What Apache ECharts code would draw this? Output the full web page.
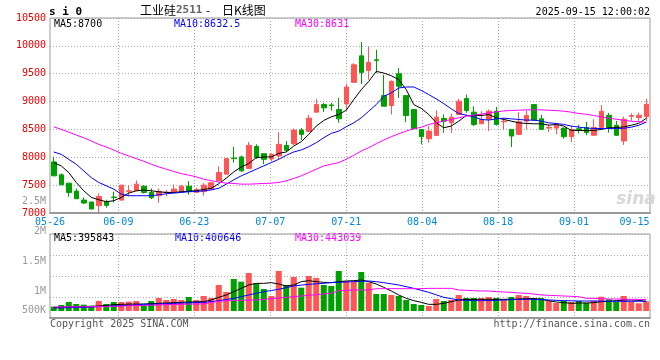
<!DOCTYPE html>
<html><head><meta charset="utf-8">
<script src="https://cdn.jsdelivr.net/npm/echarts@6/dist/echarts.min.js"></script>
<style>html,body{margin:0;padding:0;background:#fff}#c{width:660px;height:360px}</style>
</head><body><div id="c"></div>
<script>
const dates = ['05-26','05-27','05-28','05-29','05-30','06-03','06-04','06-05','06-06','06-09','06-10','06-11','06-12','06-13','06-16','06-17','06-18','06-19','06-20','06-23','06-24','06-25','06-26','06-27','06-30','07-01','07-02','07-03','07-04','07-07','07-08','07-09','07-10','07-11','07-14','07-15','07-16','07-17','07-18','07-21','07-22','07-23','07-24','07-25','07-28','07-29','07-30','07-31','08-01','08-04','08-05','08-06','08-07','08-08','08-11','08-12','08-13','08-14','08-15','08-18','08-19','08-20','08-21','08-22','08-25','08-26','08-27','08-28','08-29','09-01','09-02','09-03','09-04','09-05','09-08','09-09','09-10','09-11','09-12','09-15'];
const xTickLabels = ['05-26','06-09','06-23','07-07','07-21','08-04','08-18','09-01','09-15'];

const opens  = [7917,7685,7536,7393,7232,7197,7131,7202,7286,7232,7390,7399,7482,7369,7310,7365,7369,7381,7482,7369,7387,7429,7577,7697,7988,8006,7798,8196,8065,7970,8024,8214,8244,8488,8464,8810,8946,8940,8857,8958,9345,9821,9560,9750,9107,8929,9500,9107,8857,8500,8333,8393,8696,8619,8768,9054,8810,8601,8679,8827,8637,8500,8411,8649,8946,8690,8524,8524,8524,8369,8512,8533,8395,8533,8754,8575,8293,8735,8713,8730];
const closes = [7667,7506,7369,7256,7179,7072,7298,7137,7280,7500,7398,7518,7369,7274,7387,7375,7429,7482,7387,7423,7500,7542,7726,7976,7976,7756,8214,8000,7964,8054,8232,8125,8488,8411,8702,8946,8887,8929,8690,9262,9661,9524,9702,9738,8917,9363,9274,8750,8512,8369,8470,8720,8649,8720,9006,8839,8589,8679,8827,8589,8649,8381,8637,8750,8667,8500,8536,8577,8369,8500,8500,8443,8533,8826,8533,8395,8683,8748,8754,8952];
const lows   = [7667,7506,7292,7256,7161,7060,7000,7095,7190,7220,7298,7399,7350,7250,7185,7298,7369,7370,7327,7369,7310,7429,7577,7697,7905,7740,7798,7970,7875,7930,7960,8100,8220,8310,8464,8810,8810,8840,8620,8839,9345,9316,9393,9512,8917,8768,9066,8630,8512,8232,8262,8380,8440,8440,8768,8800,8560,8601,8470,8570,8500,8185,8411,8500,8650,8500,8452,8411,8333,8274,8428,8395,8390,8500,8443,8381,8222,8653,8653,8653];
const highs  = [8006,7708,7536,7440,7280,7197,7351,7238,7381,7500,7488,7583,7500,7440,7440,7416,7512,7500,7571,7452,7536,7560,7839,7988,8190,8030,8274,8232,8070,8070,8452,8291,8518,8524,8762,9048,8976,8976,9066,9321,9690,10071,9988,9929,9482,9381,9601,9113,8857,8500,8560,8839,8768,8780,9048,9125,8917,8827,8857,8905,8708,8500,8810,8840,8950,8762,8589,8619,8530,8560,8583,8635,8683,8934,8798,8653,8730,8790,8802,9054];

const ma5  = [7905,7845,7726,7548,7399,7280,7238,7203,7220,7280,7357,7399,7411,7399,7381,7369,7369,7381,7393,7399,7423,7443,7525,7625,7738,7827,7887,7994,8006,8006,8071,8095,8202,8280,8411,8560,8661,8726,8768,8845,9036,9214,9363,9542,9512,9464,9393,9214,8946,8878,8768,8619,8530,8560,8649,8750,8750,8750,8768,8708,8679,8649,8619,8607,8601,8601,8577,8589,8560,8482,8482,8480,8482,8500,8530,8533,8545,8575,8610,8700];
const ma10 = [8095,8054,7964,7875,7756,7637,7548,7488,7429,7339,7310,7310,7310,7310,7327,7345,7357,7369,7381,7387,7396,7414,7444,7518,7595,7667,7726,7786,7845,7905,7964,8036,8095,8131,8190,8262,8351,8429,8470,8548,8619,8708,8827,8946,9095,9155,9244,9262,9262,9200,9125,9048,8964,8869,8786,8756,8726,8679,8667,8690,8702,8690,8679,8667,8667,8649,8619,8607,8589,8560,8542,8525,8518,8516,8516,8516,8520,8540,8575,8630];
const ma30 = [8548,8500,8452,8399,8351,8292,8232,8185,8131,8071,8024,7976,7929,7875,7827,7786,7744,7708,7679,7649,7607,7580,7554,7536,7530,7518,7518,7524,7530,7536,7548,7577,7619,7667,7726,7786,7845,7875,7905,7964,8036,8113,8173,8244,8310,8369,8423,8470,8512,8539,8589,8619,8649,8679,8708,8738,8756,8774,8798,8815,8833,8839,8845,8851,8851,8851,8845,8839,8827,8810,8786,8772,8750,8726,8702,8683,8665,8647,8638,8631];

const volume = [270000,310000,381000,333000,317000,290000,405000,333000,381000,381000,390000,405000,302000,405000,476000,429000,452000,429000,500000,429000,524000,476000,786000,619000,929000,865000,1071000,825000,690000,524000,1119000,786000,976000,722000,1000000,952000,786000,762000,1119000,881000,865000,1095000,841000,571000,571000,548000,524000,429000,333000,310000,286000,452000,405000,429000,548000,476000,476000,476000,500000,476000,452000,500000,548000,524000,476000,476000,405000,357000,405000,381000,405000,364000,412000,507000,445000,381000,524000,388000,350000,397000];
const volMa5  = [246000,255000,262000,266000,270000,278000,286000,300000,318000,325000,330000,333000,333000,340000,350000,358000,365000,372000,380000,385000,389000,429000,492000,548000,627000,706000,786000,825000,825000,841000,810000,762000,786000,865000,889000,865000,849000,841000,865000,881000,889000,905000,865000,810000,730000,643000,548000,468000,413000,373000,325000,325000,349000,389000,429000,444000,444000,444000,444000,444000,444000,444000,452000,460000,460000,444000,413000,381000,365000,349000,357000,357000,365000,389000,397000,413000,429000,429000,420000,396000];
const volMa10 = [238000,242000,246000,250000,254000,262000,270000,278000,286000,294000,302000,310000,325000,330000,335000,340000,349000,355000,361000,367000,373000,390000,413000,440000,468000,508000,548000,588000,627000,655000,683000,722000,762000,782000,802000,814000,825000,845000,849000,857000,865000,873000,881000,865000,841000,814000,786000,746000,706000,659000,611000,552000,492000,460000,429000,421000,413000,413000,413000,421000,429000,437000,444000,444000,444000,437000,429000,421000,413000,409000,405000,405000,405000,401000,397000,397000,397000,397000,399000,401000];
const volMa30 = [262000,264000,266000,267000,268000,270000,272000,274000,278000,282000,293000,296000,300000,304000,310000,317000,322000,326000,330000,333000,335000,370000,400000,413000,417000,421000,425000,429000,444000,460000,476000,492000,508000,524000,540000,556000,571000,587000,651000,659000,667000,667000,667000,698000,698000,698000,698000,698000,698000,698000,706000,706000,706000,706000,667000,659000,651000,643000,643000,627000,619000,611000,595000,587000,571000,548000,540000,532000,524000,516000,508000,468000,468000,460000,452000,452000,444000,444000,444000,443000];

const priceTicks = {min: 7000, max: 10500, step: 500};
const volTickValues = [500000,1000000,1500000,2000000,2500000];
const volTickLabels = ['500K','1M','1.5M','2M','2.5M'];
const priceMaLabels = ['MA5:8700','MA10:8632.5','MA30:8631'];
const volMaLabels = ['MA5:395843','MA10:400646','MA30:443039'];
const titleCode = 's i 0';
const titleName = ['工业硅','2511','-','日K线图'];
const timestamp = '2025-09-15 12:00:02';
const footerLeft = 'Copyright 2025 SINA.COM';
const footerRight = 'http://finance.sina.com.cn';

const UP = '#ff5555', DOWN = '#00a000';
const MONO = "'DejaVu Sans Mono', 'Liberation Mono', monospace";
const maColors = ['#000000', '#0000ff', '#ff00ff'];

const candleData = opens.map((o, i) => [o, closes[i], lows[i], highs[i]]);
const volData = volume.map((v, i) => ({value: v, itemStyle: {color: closes[i] >= opens[i] ? UP : DOWN}}));

const dotted = {show: true, lineStyle: {color: '#aaa', type: [1, 2], width: 1}};
const tickShow = (i, v) => xTickLabels.indexOf(v) >= 0 && i > 0 && i < dates.length - 1;

const hiddenCat = (g) => ({type: 'category', gridIndex: g, data: dates, boundaryGap: true,
  axisLine: {show: false}, axisTick: {show: false}, axisLabel: {show: false}, splitLine: {show: false}});

const chart = echarts.init(document.getElementById('c'), null, {renderer: 'canvas'});
chart.setOption({
  animation: false,
  backgroundColor: '#fff',
  grid: [
    {left: 50, right: 10, top: 18, height: 195, show: true, borderColor: '#999', borderWidth: 1},
    {left: 50, right: 10, top: 234, height: 84, show: true, borderColor: '#999', borderWidth: 1},
    {left: 50, right: 10, top: 234, height: 77, show: false},
    {left: 50, right: 10, top: 201, height: 120, show: false}
  ],
  xAxis: [
    hiddenCat(0),
    {type: 'category', gridIndex: 0, data: dates, boundaryGap: false, position: 'bottom',
      axisLine: {show: true, lineStyle: {color: '#999', width: 2}}, axisTick: {show: false},
      axisLabel: {interval: (i, v) => xTickLabels.indexOf(v) >= 0, color: '#0088dd', fontFamily: MONO, fontSize: 10, margin: 4,
        formatter: (v) => v === xTickLabels[xTickLabels.length - 1] ? '{r|' + v + '}' : v,
        rich: {r: {color: '#0088dd', fontFamily: MONO, fontSize: 10, padding: [0, 31, 0, 0]}}},
      splitLine: Object.assign({interval: tickShow}, dotted)},
    {type: 'category', gridIndex: 1, data: dates, boundaryGap: false,
      axisLine: {show: true, lineStyle: {color: '#999', width: 2}}, axisTick: {show: false}, axisLabel: {show: false},
      splitLine: Object.assign({interval: tickShow}, dotted)},
    hiddenCat(2),
    {type: 'value', gridIndex: 3, show: false}
  ],
  yAxis: [
    {type: 'value', gridIndex: 0, min: priceTicks.min, max: priceTicks.max, interval: priceTicks.step,
      axisLine: {show: false}, axisTick: {show: false},
      axisLabel: {color: '#ee0000', fontFamily: MONO, fontSize: 10, margin: 4, formatter: (v) => String(v)},
      splitLine: dotted},
    {type: 'value', gridIndex: 1, min: 0, max: 2000000, interval: 500000,
      axisLine: {show: false}, axisTick: {show: false}, axisLabel: {show: false}, splitLine: dotted},
    {type: 'value', gridIndex: 2, min: 166667, max: 2000000, show: false, splitLine: {show: false}},
    {type: 'value', gridIndex: 3, min: volTickValues[0], max: volTickValues[volTickValues.length - 1], interval: 500000,
      axisLine: {show: false}, axisTick: {show: false}, splitLine: {show: false},
      axisLabel: {color: '#999', fontFamily: MONO, fontSize: 10, margin: 4,
        formatter: (v) => { const i = volTickValues.indexOf(v); return i === 0 ? '{b|' + volTickLabels[0] + '}' : volTickLabels[i]; },
        rich: {b: {color: '#999', fontFamily: MONO, fontSize: 10, padding: [0, 0, 22, 0]}}}}
  ],
  series: [
    {type: 'candlestick', xAxisIndex: 0, yAxisIndex: 0, data: candleData, barWidth: 5,
      itemStyle: {color: UP, color0: DOWN, borderColor: UP, borderColor0: DOWN, borderWidth: 1}},
    {type: 'line', xAxisIndex: 0, yAxisIndex: 0, data: ma5, symbol: 'none', lineStyle: {color: maColors[0], width: 1}},
    {type: 'line', xAxisIndex: 0, yAxisIndex: 0, data: ma10, symbol: 'none', lineStyle: {color: maColors[1], width: 1}},
    {type: 'line', xAxisIndex: 0, yAxisIndex: 0, data: ma30, symbol: 'none', lineStyle: {color: maColors[2], width: 1}},
    {type: 'bar', xAxisIndex: 3, yAxisIndex: 2, data: volData, barWidth: 6},
    {type: 'line', xAxisIndex: 3, yAxisIndex: 2, data: volMa5, symbol: 'none', lineStyle: {color: maColors[0], width: 1}},
    {type: 'line', xAxisIndex: 3, yAxisIndex: 2, data: volMa10, symbol: 'none', lineStyle: {color: maColors[1], width: 1}},
    {type: 'line', xAxisIndex: 3, yAxisIndex: 2, data: volMa30, symbol: 'none', lineStyle: {color: maColors[2], width: 1}}
  ],
  graphic: [
    {type: 'text', x: 49, y: 12, style: {text: titleCode, font: 'bold 11px ' + MONO, fill: '#000', verticalAlign: 'middle', textVerticalAlign: 'middle'}},
    {type: 'text', x: 140, y: 10, style: {text: titleName[0], font: "12px 'Noto Sans CJK SC', sans-serif", fill: '#000', verticalAlign: 'middle', textVerticalAlign: 'middle'}},
    {type: 'text', x: 176, y: 10, style: {text: titleName[1], font: "bold 11px 'DejaVu Sans Mono', monospace", fill: '#666', verticalAlign: 'middle', textVerticalAlign: 'middle'}},
    {type: 'text', x: 206, y: 10, style: {text: titleName[2], font: "12px 'Noto Sans CJK SC', sans-serif", fill: '#000', verticalAlign: 'middle', textVerticalAlign: 'middle'}},
    {type: 'text', x: 222, y: 10, style: {text: titleName[3], font: "12px 'Noto Sans CJK SC', sans-serif", fill: '#000', verticalAlign: 'middle', textVerticalAlign: 'middle'}},
    {type: 'text', x: 650, y: 12, style: {text: timestamp, font: '10px ' + MONO, fill: '#000', align: 'right', textAlign: 'right', verticalAlign: 'middle', textVerticalAlign: 'middle'}},
    {type: 'text', x: 54, y: 24, style: {text: priceMaLabels[0], font: '10px ' + MONO, fill: maColors[0], verticalAlign: 'middle', textVerticalAlign: 'middle'}},
    {type: 'text', x: 174, y: 24, style: {text: priceMaLabels[1], font: '10px ' + MONO, fill: maColors[1], verticalAlign: 'middle', textVerticalAlign: 'middle'}},
    {type: 'text', x: 295, y: 24, style: {text: priceMaLabels[2], font: '10px ' + MONO, fill: maColors[2], verticalAlign: 'middle', textVerticalAlign: 'middle'}},
    {type: 'text', x: 54, y: 238, style: {text: volMaLabels[0], font: '10px ' + MONO, fill: maColors[0], verticalAlign: 'middle', textVerticalAlign: 'middle'}},
    {type: 'text', x: 175, y: 238, style: {text: volMaLabels[1], font: '10px ' + MONO, fill: maColors[1], verticalAlign: 'middle', textVerticalAlign: 'middle'}},
    {type: 'text', x: 295, y: 238, style: {text: volMaLabels[2], font: '10px ' + MONO, fill: maColors[2], verticalAlign: 'middle', textVerticalAlign: 'middle'}},
    {type: 'text', x: 50, y: 324, style: {text: footerLeft, font: '10px ' + MONO, fill: '#555', verticalAlign: 'middle', textVerticalAlign: 'middle'}},
    {type: 'text', x: 650, y: 324, style: {text: footerRight, font: '10px ' + MONO, fill: '#555', align: 'right', textAlign: 'right', verticalAlign: 'middle', textVerticalAlign: 'middle'}},
    {type: 'text', x: 636, y: 200, z: 0, style: {text: 'sina', font: "italic bold 17px 'DejaVu Sans', sans-serif", fill: '#d8d8d8', align: 'center', textAlign: 'center', verticalAlign: 'middle', textVerticalAlign: 'middle'}}
  ]
});
</script>
</body></html>
